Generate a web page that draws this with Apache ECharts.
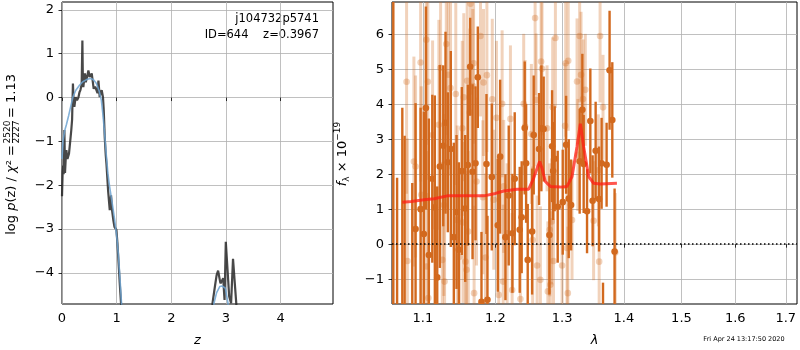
<!DOCTYPE html>
<html>
<head>
<meta charset="utf-8">
<script src="https://cdn.jsdelivr.net/npm/echarts@6/dist/echarts.min.js"></script>
<style>
html, body { margin: 0; padding: 0; background: #fff; }
#main { width: 800px; height: 350px; }
</style>
</head>
<body>
<div id="main"></div>
<script>
// ---- p(z) panel ----
var zDark = [0,0.012,0.022,0.03,0.044,0.055,0.07,0.08,0.1,0.128,0.15,0.17,0.185,0.2,0.213,0.226,0.25,0.275,0.3,0.32,0.337,0.36,0.373,0.383,0.39,0.42,0.435,0.447,0.465,0.483,0.507,0.525,0.544,0.56,0.58,0.605,0.63,0.65,0.667,0.69,0.71,0.727,0.75,0.764,0.782,0.8,0.813,0.843,0.874,0.885,0.898,0.916,0.94,0.96,0.996,1.015,1.057,1.088,1.15,2.7,2.755,2.8,2.83,2.857,2.9,2.95,2.975,2.998,3.03,3.06,3.095,3.13,3.15,3.19,3.25];
var logpDark = [-2.25,-1.7,-1.55,-1.75,-0.74,-1.72,-1.35,-1.2,-1.4,-1.28,-1.0,-0.74,-0.5,0.32,-0.1,-0.21,0.01,-0.06,0.0,0.12,0.17,0.3,1.3,0.3,0.24,0.55,0.35,0.32,0.5,0.62,0.47,0.45,0.55,0.4,0.2,0.25,0.17,0.1,0.39,0.01,0.12,0.17,0.01,-0.29,-0.9,-1.3,-1.5,-2.11,-2.57,-2.45,-2.23,-2.57,-2.8,-2.95,-3.02,-3.33,-4.24,-4.85,-7,-7,-4.69,-4.3,-4.05,-3.95,-4.24,-4.12,-4.62,-3.29,-3.33,-4.54,-4.69,-3.68,-3.71,-4.7,-7];
var zBlue = [0,0.02,0.05,0.08,0.12,0.16,0.2,0.25,0.32,0.38,0.45,0.5,0.54,0.58,0.63,0.68,0.72,0.75,0.78,0.81,0.84,0.87,0.9,0.93,0.965,1.0,1.03,1.06,1.09,1.12,1.2,2.7,2.75,2.78,2.83,2.89,2.93,2.99,3.04,3.08,3.15];
var logpBlue = [-1.4,-0.97,-0.75,-0.62,-0.42,-0.2,0.01,0.16,0.28,0.36,0.41,0.43,0.43,0.4,0.32,0.15,-0.06,-0.4,-0.82,-1.3,-1.73,-2.02,-2.26,-2.5,-2.8,-3.15,-3.55,-4.1,-4.71,-5.4,-7,-7,-5.2,-4.7,-4.45,-4.31,-4.3,-4.35,-4.7,-5.3,-7];

var zTicks = [0, 1, 2, 3, 4];
var pzTicks = [-4, -3, -2, -1, 0, 1, 2];

// ---- spectrum panel ----
var solidLam = [1.0617,1.0665,1.0732,1.0762,1.0861,1.0904,1.0970,1.1013,1.1040,1.1079,1.1125,1.1159,1.1191,1.1226,1.1272,1.1303,1.1334,1.1375,1.1416,1.1453,1.1485,1.1526,1.1573,1.1609,1.1642,1.1675,1.1717,1.1749,1.1801,1.1872,1.1886,1.1948,1.2034,1.2068,1.2145,1.2193,1.2247,1.2281,1.2355,1.2384,1.2429,1.2450,1.2474,1.2540,1.2564,1.2645,1.2680,1.2715,1.2803,1.2844,1.2860,1.2884,1.2931,1.3009,1.3062,1.3103,1.3140,1.3276,1.3319,1.3340,1.3394,1.3447,1.3484,1.3533,1.3588,1.3630,1.3653,1.3712,1.3761,1.3806,1.3844];
var solidFlux = [-3.5,-2.0,-1.9,-2.2,-2.3,0.43,1.00,0.29,3.89,-0.31,1.87,1.05,-0.95,2.22,2.81,3.47,2.34,2.72,0.20,0.92,-0.16,2.09,1.02,2.26,5.07,2.07,2.31,4.77,-1.65,2.29,-1.59,1.92,0.54,2.50,0.20,1.39,0.31,1.87,0.41,0.77,3.32,2.31,-0.45,0.36,3.12,2.72,3.31,3.29,0.26,2.80,2.09,2.44,1.07,1.20,2.84,1.30,1.12,2.37,3.84,2.29,0.94,3.52,1.24,2.67,1.29,2.31,-2.6,2.27,4.97,3.55,-0.21];
var solidErr = [11.0,3.9,5.8,5.3,4.05,3.6,2.9,3.5,2.9,3.9,2.4,3.2,2.6,2.9,2.3,2.6,2.0,2.8,2.7,2.2,2.5,2.4,2.1,2.3,1.4,2.5,2.2,1.45,2.0,2.0,2.4,2.1,1.9,2.2,1.8,2.0,1.7,1.9,1.8,1.6,1.9,1.7,1.6,1.8,1.7,1.6,1.8,1.5,1.7,1.6,1.4,1.5,1.6,1.5,1.4,1.7,1.3,1.5,1.6,1.4,1.2,1.5,1.3,1.4,1.5,1.3,1.5,1.2,1.7,1.65,1.8];

var paleLam = [1.0787,1.0797,1.0882,1.0904,1.0970,1.0979,1.1045,1.1049,1.1066,1.1072,1.1129,1.1213,1.1236,1.1259,1.1280,1.1290,1.1313,1.1340,1.1371,1.1443,1.1463,1.1490,1.1532,1.1543,1.1553,1.1577,1.1591,1.1600,1.1615,1.1637,1.1647,1.1679,1.1690,1.1697,1.1731,1.1787,1.1820,1.1830,1.1858,1.1878,1.1955,1.1976,1.2015,1.2048,1.2097,1.2112,1.2120,1.2170,1.2218,1.2243,1.2365,1.2414,1.2435,1.2529,1.2548,1.2585,1.2600,1.2615,1.2665,1.2676,1.2690,1.2767,1.2779,1.2817,1.2808,1.2838,1.2853,1.2866,1.2895,1.2999,1.3046,1.3055,1.3076,1.3089,1.3095,1.3155,1.3234,1.3247,1.3276,1.3298,1.3330,1.3366,1.3500,1.3577,1.3590,1.3605,1.3653,1.3855];
var paleFlux = [4.64,-0.48,2.36,2.22,5.19,1.41,5.84,-0.64,4.64,-1.54,3.12,3.41,5.04,-0.45,1.12,-1.07,5.72,4.84,4.46,4.29,0.69,-0.37,3.31,0.62,4.20,-0.50,-0.73,4.67,0.36,3.76,6.87,4.52,5.17,-1.40,1.79,5.95,1.34,4.62,-0.38,4.83,4.14,1.27,3.61,-1.45,4.01,-1.07,1.65,0.31,3.58,-1.31,-1.57,4.01,3.36,3.15,0.12,6.46,4.12,-0.61,-1.02,5.22,5.01,3.31,-1.35,-1.16,0.41,0.65,3.91,-0.48,5.89,-0.61,3.38,5.17,-0.11,-1.40,5.24,0.69,4.65,2.55,5.95,4.84,4.15,4.41,0.67,2.11,-0.50,5.95,3.91,-0.24];
var paleErr = [3.2,3.5,3.0,2.6,3.4,3.1,3.0,3.3,2.8,3.0,2.7,3.0,2.9,2.8,2.6,3.1,2.6,2.7,2.5,2.6,2.7,2.4,2.5,2.3,2.4,2.6,2.2,2.5,2.3,2.4,2.6,2.2,2.3,2.5,2.4,2.3,2.2,2.1,2.4,2.2,2.3,2.0,2.2,2.3,2.1,2.2,1.9,2.0,2.1,2.2,2.3,2.0,1.9,2.0,2.1,2.2,1.9,2.0,2.1,2.0,1.9,1.8,2.0,2.1,1.9,1.8,2.0,1.9,2.0,1.9,1.8,2.1,1.8,1.9,2.0,1.7,1.8,1.6,1.9,1.8,1.7,1.6,1.7,1.6,1.8,1.9,1.5,1.7];

var modelLam = [1.0732,1.085,1.1013,1.115,1.1326,1.1553,1.1834,1.20,1.2121,1.2317,1.2489,1.2564,1.2615,1.2654,1.269,1.274,1.2817,1.2972,1.3076,1.3155,1.3234,1.3287,1.3339,1.342,1.35,1.3608,1.3883];
var modelFlux = [1.2,1.22,1.27,1.3,1.38,1.38,1.38,1.45,1.52,1.57,1.57,1.89,2.17,2.36,2.17,1.79,1.65,1.63,1.65,1.93,2.79,3.44,2.79,1.93,1.74,1.72,1.74];

var lamTicks = [1.1, 1.2, 1.3, 1.4, 1.5, 1.6, 1.7];
var fluxTicks = [-1, 0, 1, 2, 3, 4, 5, 6];

var FONT = '"DejaVu Sans", sans-serif';
var ORANGE = '#d2691e';

createChart();

function zip(xs, ys) {
    var out = [];
    for (var i = 0; i < xs.length; i++) out.push([xs[i], ys[i]]);
    return out;
}

function minus(v) {
    return String(v).replace('-', '\u2212');
}

// wavelength axis is logarithmic, so plot log10(lambda) on a value axis
function lamPoints(lam, ys, errs) {
    var out = [];
    for (var i = 0; i < lam.length; i++) {
        var row = [Math.log10(lam[i]), ys[i]];
        if (errs) row.push(errs[i]);
        out.push(row);
    }
    return out;
}

function errorBars(color, barWidth, radius) {
    return function (params, api) {
        var x = api.value(0), y = api.value(1), e = api.value(2);
        var hi = api.coord([x, y + e]);
        var lo = api.coord([x, y - e]);
        var c = api.coord([x, y]);
        return {
            type: 'group',
            children: [
                { type: 'line', shape: { x1: hi[0], y1: hi[1], x2: lo[0], y2: lo[1] }, style: { stroke: color, lineWidth: barWidth } },
                { type: 'circle', shape: { cx: c[0], cy: c[1], r: radius }, style: { fill: color } }
            ]
        };
    };
}

function axisCommon(ticks, fmt) {
    return {
        axisLine: { show: false },
        axisTick: { show: true, length: 3.5, lineStyle: { color: '#000', width: 0.8 }, customValues: ticks },
        axisLabel: { customValues: ticks, formatter: fmt, color: '#000', fontSize: 13, fontFamily: FONT, margin: 8 },
        splitLine: { show: true, lineStyle: { color: '#b0b0b0', width: 0.8 } }
    };
}

function createChart() {
    var myChart = echarts.init(document.getElementById('main'), null, { renderer: 'canvas' });

    var x0 = axisCommon(zTicks, function (v) { return minus(v); });
    x0.gridIndex = 0; x0.type = 'value'; x0.min = 0; x0.max = 4.96;
    x0.name = 'z'; x0.nameLocation = 'middle'; x0.nameGap = 30;
    x0.nameTextStyle = { fontStyle: 'italic', fontSize: 13, fontFamily: FONT, color: '#000' };

    var y0 = axisCommon(pzTicks, function (v) { return minus(v); });
    y0.gridIndex = 0; y0.type = 'value'; y0.min = -4.71; y0.max = 2.18;

    var x1 = axisCommon(lamTicks.map(Math.log10), function (v) { return Math.pow(10, v).toFixed(1); });
    x1.gridIndex = 1; x1.type = 'value'; x1.min = Math.log10(1.06); x1.max = Math.log10(1.723);
    x1.name = 'λ'; x1.nameLocation = 'middle'; x1.nameGap = 30;
    x1.nameTextStyle = { fontStyle: 'italic', fontSize: 13, fontFamily: FONT, color: '#000' };

    var y1 = axisCommon(fluxTicks, function (v) { return minus(v); });
    y1.gridIndex = 1; y1.type = 'value'; y1.min = -1.71; y1.max = 6.92;

    option = {
        animation: false,
        backgroundColor: '#fff',
        grid: [
            { left: 62, top: 2, width: 271, height: 302, outerBoundsMode: 'none', show: true, borderColor: '#000', borderWidth: 1, backgroundColor: 'transparent' },
            { left: 392, top: 2, width: 405, height: 302, outerBoundsMode: 'none', show: true, borderColor: '#000', borderWidth: 1, backgroundColor: 'transparent' }
        ],
        xAxis: [x0, x1],
        yAxis: [y0, y1],
        series: [
            {
                type: 'line', xAxisIndex: 0, yAxisIndex: 0, data: zip(zDark, logpDark),
                symbol: 'none', clip: true, lineStyle: { color: 'rgba(40,40,40,0.85)', width: 2.2 }
            },
            {
                type: 'line', xAxisIndex: 0, yAxisIndex: 0, data: zip(zBlue, logpBlue),
                symbol: 'none', clip: true, lineStyle: { color: 'rgba(110,165,210,0.85)', width: 1.6 }
            },
            {
                type: 'custom', xAxisIndex: 1, yAxisIndex: 1, clip: true,
                data: lamPoints(paleLam, paleFlux, paleErr), encode: { x: 0, y: 1 },
                renderItem: errorBars('rgba(210,105,30,0.3)', 3, 3.3)
            },
            {
                type: 'custom', xAxisIndex: 1, yAxisIndex: 1, clip: true,
                data: lamPoints(solidLam, solidFlux, solidErr), encode: { x: 0, y: 1 },
                renderItem: errorBars(ORANGE, 2.4, 3.3)
            },
            {
                type: 'line', xAxisIndex: 1, yAxisIndex: 1, data: lamPoints(modelLam, modelFlux),
                symbol: 'none', clip: true, lineStyle: { color: 'rgba(255,30,20,0.75)', width: 3 },
                markLine: {
                    silent: true, symbol: 'none', label: { show: false },
                    lineStyle: { color: '#000', type: [1.5, 2.5], width: 1.5 },
                    data: [{ yAxis: 0 }]
                }
            }
        ],
        graphic: [
            {
                type: 'text', x: 319, y: 19,
                style: { text: 'j104732p5741', font: '11.5px ' + FONT, fill: '#000', textAlign: 'right', textVerticalAlign: 'middle' }
            },
            {
                type: 'text', x: 319, y: 35,
                style: { text: 'ID=644    z=0.3967', font: '11.5px ' + FONT, fill: '#000', textAlign: 'right', textVerticalAlign: 'middle' }
            },
            {
                // left y label: log p(z) / chi^2 = 2520/2227 = 1.13
                type: 'group', x: 12, y: 153, rotation: Math.PI / 2,
                children: [
                    {
                        type: 'text', x: 8, y: 0,
                        style: {
                            text: 'log {i|p}(z) / {i|χ}² =', font: '13px ' + FONT, fill: '#000',
                            textAlign: 'right', textVerticalAlign: 'middle',
                            rich: { i: { fontStyle: 'italic', fontSize: 13, fontFamily: FONT } }
                        }
                    },
                    {
                        type: 'text', x: 21, y: -4.5,
                        style: { text: '2520', font: '9px ' + FONT, fill: '#000', textAlign: 'center', textVerticalAlign: 'middle' }
                    },
                    { type: 'line', shape: { x1: 10, y1: 0.5, x2: 32, y2: 0.5 }, style: { stroke: '#000', lineWidth: 0.8 } },
                    {
                        type: 'text', x: 21, y: 5,
                        style: { text: '2227', font: '9px ' + FONT, fill: '#000', textAlign: 'center', textVerticalAlign: 'middle' }
                    },
                    {
                        type: 'text', x: 35, y: 0,
                        style: { text: '= 1.13', font: '13px ' + FONT, fill: '#000', textAlign: 'left', textVerticalAlign: 'middle' }
                    }
                ]
            },
            {
                type: 'text', x: 343, y: 154, rotation: Math.PI / 2,
                style: {
                    text: '{i|f}{sub|λ} × 10{sup|−19}', font: '13px ' + FONT, fill: '#000',
                    textAlign: 'center', textVerticalAlign: 'middle',
                    rich: {
                        i: { fontStyle: 'italic', fontSize: 13, fontFamily: FONT },
                        sub: { fontSize: 9, fontFamily: FONT, padding: [8, 0, 0, 0] },
                        sup: { fontSize: 9, fontFamily: FONT, padding: [0, 0, 10, 0] }
                    }
                }
            },
            {
                type: 'text', x: 744, y: 339,
                style: { text: 'Fri Apr 24 13:17:50 2020', font: '6.5px ' + FONT, fill: '#000', textAlign: 'center', textVerticalAlign: 'middle' }
            }
        ]
    };

    myChart.setOption(option);
}
</script>
</body>
</html>
